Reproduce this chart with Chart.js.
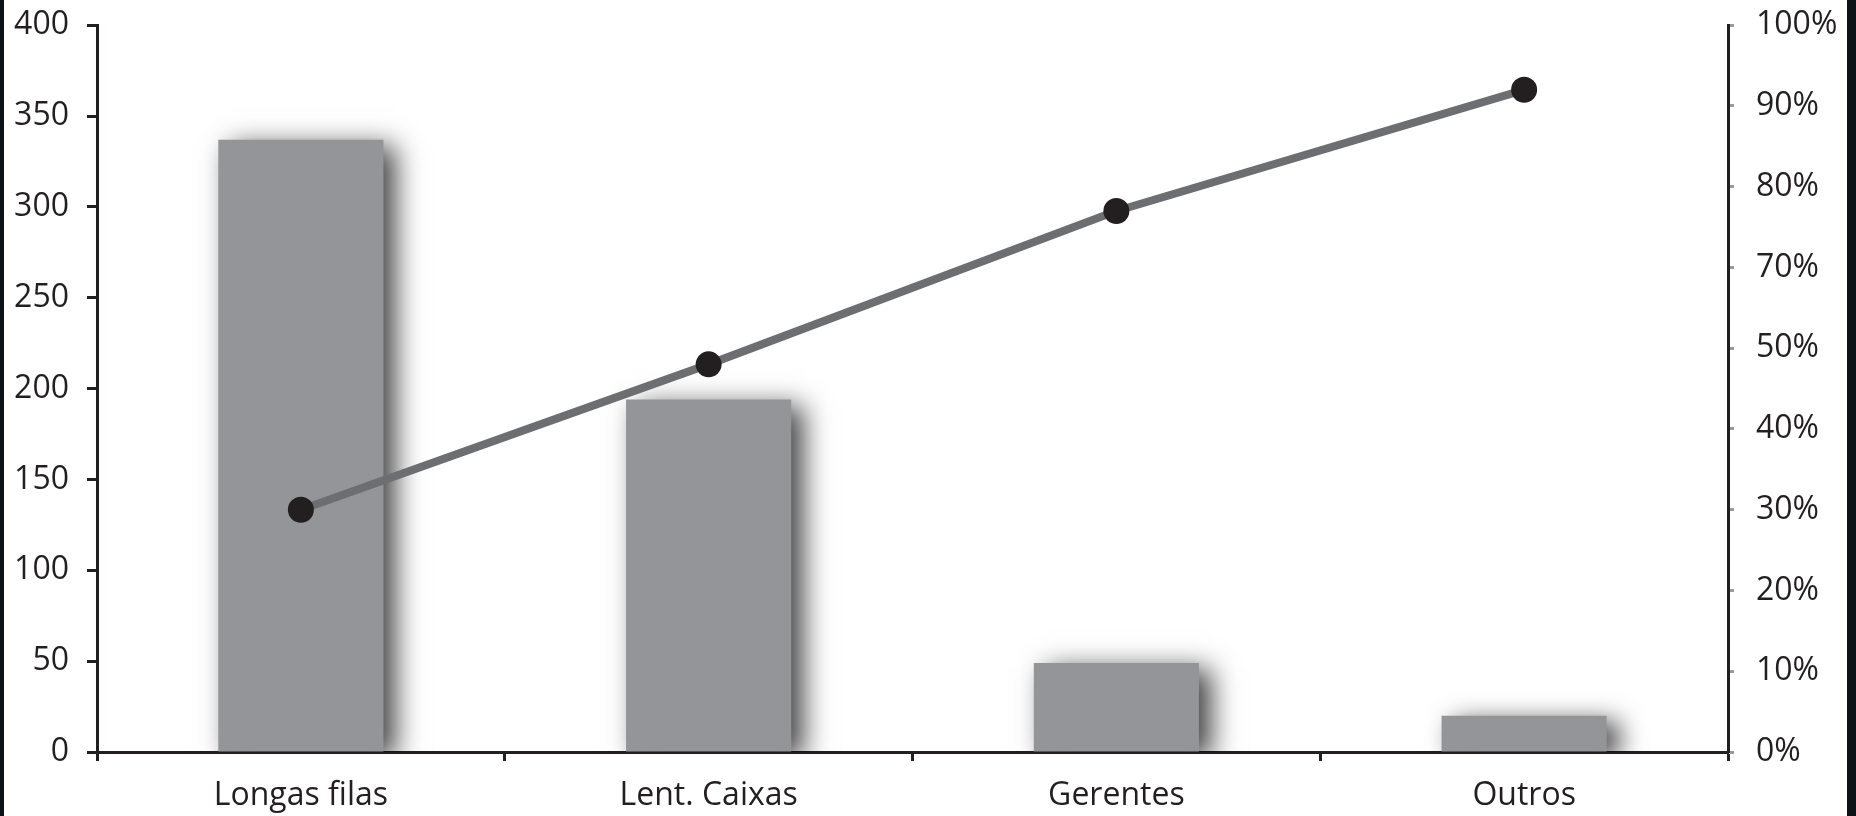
<!DOCTYPE html>
<html>
<head>
<meta charset="utf-8">
<script src="https://cdn.jsdelivr.net/npm/chart.js@4.4.1/dist/chart.umd.min.js"></script>
<style>
    body { margin: 0; background: #0c1216; width: 1856px; height: 816px; overflow: hidden; }
    #frame { position: absolute; left: 4px; top: 0; width: 1843px; height: 816px; background: #ffffff; overflow: hidden; }
    #myChart { position: absolute; left: 0; top: -16px; }
</style>
</head>
<body>
<div id="frame"><canvas id="myChart" width="1843" height="832"></canvas></div>
<script>
const categories = ['Longas filas', 'Lent. Caixas', 'Gerentes', 'Outros'];
const counts = [337, 194, 49, 20];
// cumulative line, read against the right axis labels
const cumulativePct = [30, 48, 77, 92];
const leftTicks = [0, 50, 100, 150, 200, 250, 300, 350, 400];
// the original right axis has no 60% label
const rightTickLabels = ['0%', '10%', '20%', '30%', '40%', '50%', '70%', '80%', '90%', '100%'];

// place a read percentage on the axis as it is labelled (60% is skipped)
const toRightAxis = v => (v <= 50 ? v : v - 10);

const ink = '#231f20';
const font = { family: 'Open Sans', size: 32 };

const barShadow = {
    id: 'barShadow',
    beforeDatasetDraw(chart, args) {
        if (args.meta.type !== 'bar') return;
        const ctx = chart.ctx;
        ctx.save();
        ctx.shadowColor = 'rgba(0, 0, 0, 0.75)';
        ctx.shadowBlur = 26;
        ctx.shadowOffsetX = 12;
        ctx.shadowOffsetY = 6;
    },
    afterDatasetDraw(chart, args) {
        if (args.meta.type !== 'bar') return;
        chart.ctx.restore();
    }
};

const ctx = document.getElementById('myChart');
new Chart(ctx, {
    type: 'bar',
    data: {
        labels: categories,
        datasets: [{
            type: 'line',
            data: cumulativePct.map(toRightAxis),
            yAxisID: 'y2',
            borderColor: '#6d6e71',
            borderWidth: 8,
            pointRadius: 13,
            pointBackgroundColor: ink,
            pointBorderWidth: 0,
            tension: 0,
            order: 0
        }, {
            type: 'bar',
            data: counts,
            yAxisID: 'y',
            backgroundColor: '#939598',
            categoryPercentage: 1,
            barPercentage: 0.405,
            order: 1
        }]
    },
    plugins: [barShadow],
    options: {
        responsive: false,
        animation: false,
        devicePixelRatio: 1,
        layout: { padding: { top: 7, left: 0, right: 0, bottom: 0 } },
        plugins: {
            legend: { display: false },
            tooltip: { enabled: false }
        },
        scales: {
            x: {
                z: 1,
                offset: true,
                grid: {
                    offset: true,
                    drawOnChartArea: false,
                    tickLength: 9,
                    tickColor: ink,
                    tickWidth: 3
                },
                border: { display: true, color: ink, width: 3 },
                ticks: { color: ink, font: font, padding: 16, maxRotation: 0 },
                afterFit(scale) { scale.height = 64; }
            },
            y: {
                position: 'left',
                min: 0,
                max: 400,
                afterBuildTicks(scale) { scale.ticks = leftTicks.map(v => ({ value: v })); },
                grid: {
                    drawOnChartArea: false,
                    tickLength: 10,
                    tickColor: ink,
                    tickWidth: 3
                },
                border: { display: true, color: ink, width: 3 },
                ticks: { color: ink, font: font, padding: 18 },
                afterFit(scale) { scale.width = 93; }
            },
            y2: {
                position: 'right',
                min: 0,
                max: 90,
                ticks: {
                    stepSize: 10,
                    color: ink,
                    font: font,
                    padding: 22,
                    callback: value => rightTickLabels[Math.round(value / 10)]
                },
                grid: {
                    drawOnChartArea: false,
                    tickLength: 6,
                    tickColor: '#9a9a9a',
                    tickWidth: 3
                },
                border: { display: true, color: ink, width: 3 },
                afterFit(scale) { scale.width = 119; }
            }
        }
    }
});
</script>
</body>
</html>
